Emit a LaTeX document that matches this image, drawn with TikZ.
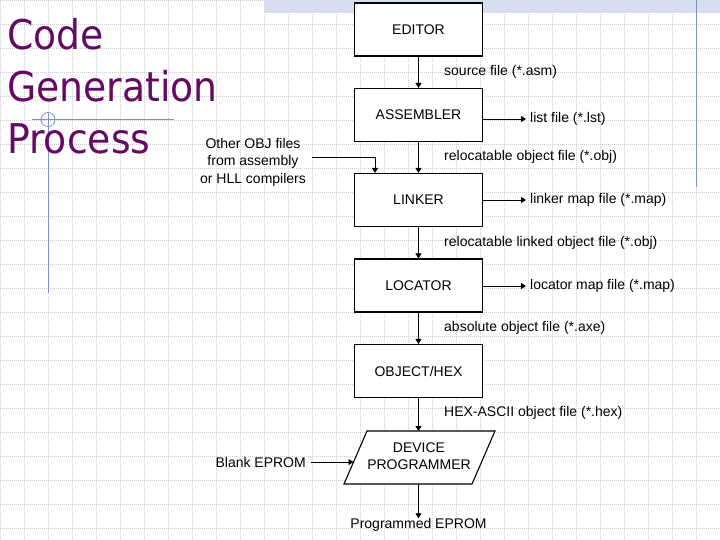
\documentclass[tikz,border=0pt]{standalone}
\usepackage{fontspec}
\setmainfont{Liberation Sans}
\newfontfamily\titlefont[FakeStretch=0.92]{DejaVu Sans}
\usetikzlibrary{arrows.meta}
\definecolor{titlepurple}{RGB}{100,10,100}
\definecolor{tmplblue}{RGB}{128,144,192}
\definecolor{bandblue}{RGB}{214,222,238}
\definecolor{gridgray}{RGB}{205,205,205}
\begin{document}
\begin{tikzpicture}[x=1pt,y=-1pt,
  gridline/.style={draw=gridgray, line width=0.6pt, dash pattern=on 1pt off 1pt},
  tmpl/.style={draw=tmplblue, line width=1pt},
  box/.style={draw, line width=1.1pt, fill=white, minimum width=128pt, minimum height=53pt, inner sep=0pt, font=\fontsize{14}{17}\selectfont},
  lbl/.style={inner sep=0pt, font=\fontsize{14}{17}\selectfont, anchor=west},
  arr/.style={line width=0.9pt, -{Triangle[length=5pt,width=6pt]}},
  titletext/.style={text=titlepurple, font=\titlefont\fontsize{41}{52}\selectfont, anchor=base west, inner sep=0pt}]
\useasboundingbox (0,0) rectangle (720,540);
\fill[white] (0,0) rectangle (720,540);
% background grid
\foreach \x in {0,24,...,720} \draw[gridline] (\x,0) -- (\x,540);
\foreach \y in {0.5,24.5,...,540} \draw[gridline] (0,\y) -- (720,\y);
% template ornaments
\fill[bandblue] (264,0) rectangle (720,13);
\draw[tmpl] (696.5,0) -- (696.5,187);
\draw[tmpl] (32,119.5) -- (174,119.5);
\draw[tmpl] (48,112) -- (48,293);
\draw[tmpl, line width=0.8pt] (48,119.5) circle[radius=7];
% title
\node[titletext] (t1) at (7,50) {Code};
\node[titletext] (t2) at (7,102) {Generation};
\node[titletext] (t3) at (7,154) {Process};
% main boxes
\node[box] (ed) at (418.5,29.5) {EDITOR};
\node[box] (as) at (418.5,115) {ASSEMBLER};
\node[box] (ln) at (418.5,200) {LINKER};
\node[box] (lc) at (418.5,285.5) {LOCATOR};
\node[box] (oh) at (418.5,371) {OBJECT/HEX};
% device programmer parallelogram
\coordinate (pa) at (344,484);
\coordinate (pb) at (472,484);
\coordinate (pc) at (495,431);
\coordinate (pd) at (367,431);
\draw[line width=1.1pt, fill=white] (pa) -- (pb) -- (pc) -- (pd) -- cycle;
\node[align=center, inner sep=0pt, font=\fontsize{14}{17}\selectfont] (dp) at (419,456) {DEVICE\\PROGRAMMER};
\coordinate (dptop) at (418.5,431);
\coordinate (dpbot) at (418.5,484);
\coordinate (dpleft) at (353.5,462);
% labels
\node[lbl] (src) at (444,72) {source file (*.asm)};
\node[lbl] (robj) at (444,157) {relocatable object file (*.obj)};
\node[lbl] (rlobj) at (444,243) {relocatable linked object file (*.obj)};
\node[lbl] (abs) at (444,328) {absolute object file (*.axe)};
\node[lbl] (hex) at (444,413) {HEX-ASCII object file (*.hex)};
\node[lbl] (lst) at (530,119) {list file (*.lst)};
\node[lbl] (lmap) at (530,200) {linker map file (*.map)};
\node[lbl] (cmap) at (530,286) {locator map file (*.map)};
\node[inner sep=0pt, font=\fontsize{14}{17}\selectfont] (peprom) at (418.5,525) {Programmed EPROM};
\node[align=center, inner sep=0pt, font=\fontsize{14}{17.5}\selectfont] (other) at (253,162) {Other OBJ files\\from assembly\\or HLL compilers};
\node[inner sep=0pt, font=\fontsize{14}{17}\selectfont, anchor=east] (blank) at (306,462) {Blank EPROM};
\coordinate (oo) at (312,157);
% connectors
\draw[arr] (ed) -- (as);
\draw[arr] (as) -- (ln);
\draw[arr] (ln) -- (lc);
\draw[arr] (lc) -- (oh);
\draw[arr] (oh) -- (dptop);
\draw[arr] (dpbot) -- (peprom.north);
\draw[arr] (as.east |- lst.west) -- ([xshift=-4pt]lst.west);
\draw[arr] (ln.east |- lmap.west) -- ([xshift=-4pt]lmap.west);
\draw[arr] (lc.east |- cmap.west) -- ([xshift=-4pt]cmap.west);
\draw[arr] (oo) -| ([xshift=-43.5pt]ln.north);
\draw[arr] ([xshift=5pt]blank.east) -- (dpleft);
\end{tikzpicture}
\end{document}
